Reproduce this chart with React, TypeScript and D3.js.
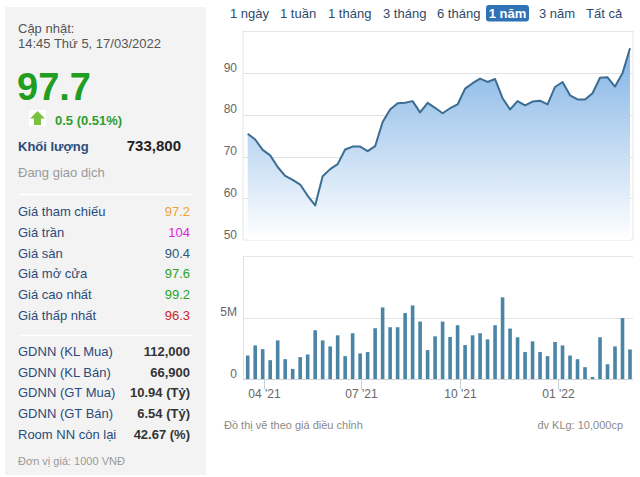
import React from "react";
import * as d3 from "d3";

const weekDates = [
  "2021-03-17","2021-03-24","2021-03-31","2021-04-07","2021-04-14","2021-04-21","2021-04-28",
  "2021-05-05","2021-05-12","2021-05-19","2021-05-26","2021-06-02","2021-06-09","2021-06-16",
  "2021-06-23","2021-06-30","2021-07-07","2021-07-14","2021-07-21","2021-07-28","2021-08-04",
  "2021-08-11","2021-08-18","2021-08-25","2021-09-01","2021-09-08","2021-09-15","2021-09-22",
  "2021-09-29","2021-10-06","2021-10-13","2021-10-20","2021-10-27","2021-11-03","2021-11-10",
  "2021-11-17","2021-11-24","2021-12-01","2021-12-08","2021-12-15","2021-12-22","2021-12-29",
  "2022-01-05","2022-01-12","2022-01-19","2022-01-26","2022-02-02","2022-02-09","2022-02-16",
  "2022-02-23","2022-03-02","2022-03-09"
];

const prices = [
  75.5, 74.1, 71.6, 70.3, 67.5, 65.4, 64.4, 63.3, 60.6, 58.3,
  65.3, 67.0, 68.2, 71.7, 72.4, 72.4, 71.3, 72.5, 78.3, 81.3,
  82.8, 82.9, 83.3, 80.6, 82.9, 81.7, 80.4, 81.6, 82.5, 86.3,
  87.6, 88.7, 87.9, 88.6, 84.0, 81.3, 83.3, 82.3, 83.2, 83.4,
  82.5, 86.7, 87.9, 84.7, 83.7, 83.7, 85.2, 88.9, 89.0, 86.8,
  90.0, 96.0
];

// volume in millions
const volumes = [
  1.91, 2.73, 2.43, 1.53, 3.14, 1.61, 0.82, 1.78, 1.99, 3.96,
  3.14, 2.65, 3.55, 1.86, 3.72, 2.08, 2.19, 4.13, 5.82, 4.21,
  4.21, 5.36, 5.98, 4.67, 2.35, 3.47, 4.67, 3.42, 4.37, 2.76,
  3.55, 3.72, 3.22, 4.37, 6.64, 4.10, 3.39, 2.19, 3.06, 2.19,
  1.86, 3.01, 2.73, 1.91, 1.61, 0.96, 0.16, 3.39, 1.20, 2.65,
  4.95, 2.40
];

const priceTicks = [50, 60, 70, 80, 90];
const volumeTicks = [0, 5];
const monthTicks = ["2021-04-01", "2021-07-01", "2021-10-01", "2022-01-01"];

const tabs = ["1 ngày", "1 tuần", "1 tháng", "3 tháng", "6 tháng", "1 năm", "3 năm", "Tất cả"];
const activeTab = "1 năm";

const priceRows = [
  { label: "Giá tham chiếu", value: "97.2", color: "#f0a033" },
  { label: "Giá trần", value: "104", color: "#e01fe0" },
  { label: "Giá sàn", value: "90.4", color: "#2c5a80" },
  { label: "Giá mở cửa", value: "97.6", color: "#29a329" },
  { label: "Giá cao nhất", value: "99.2", color: "#29a329" },
  { label: "Giá thấp nhất", value: "96.3", color: "#c8282d" },
];

const foreignRows = [
  { label: "GDNN (KL Mua)", value: "112,000" },
  { label: "GDNN (KL Bán)", value: "66,900" },
  { label: "GDNN (GT Mua)", value: "10.94 (Tỷ)" },
  { label: "GDNN (GT Bán)", value: "6.54 (Tỷ)" },
  { label: "Room NN còn lại", value: "42.67 (%)" },
];

const FONT = "Arial, 'Liberation Sans', sans-serif";
const tabX = [230, 280, 328, 383, 437, 492, 539, 586];

export default function App() {
  const parse = d3.timeParse("%Y-%m-%d");
  const dates = weekDates.map((d) => parse(d) as Date);
  const data = dates.map((d, i) => ({ d, p: prices[i], v: volumes[i] }));

  const plotLeft = 243;
  const plotRight = 633;

  const x = d3.scaleTime().domain([dates[0], dates[dates.length - 1]]).range([247.7, 630]);
  const yP = d3.scaleLinear().domain([50, 100]).range([240, 31.5]);
  const yV = d3.scaleLinear().domain([0, 10]).range([379, 256]);

  const line = d3.line<any>().x((d) => x(d.d)).y((d) => yP(d.p));
  const area = d3.area<any>().x((d) => x(d.d)).y0(yP(50)).y1((d) => yP(d.p));
  const fmt = d3.timeFormat("%m '%y");
  const barW = 3.6;

  return (
    <svg width={640} height={477} style={{ position: "absolute", left: 0, top: 0, fontFamily: FONT }}>
      <defs>
        <linearGradient id="areaGrad" gradientUnits="userSpaceOnUse" x1="0" y1={yP(100)} x2="0" y2={yP(50)}>
          <stop offset="0" stopColor="#78ade3" />
          <stop offset="1" stopColor="#ffffff" />
        </linearGradient>
      </defs>
      <rect x={0} y={0} width={640} height={477} fill="#ffffff" />

      {/* left panel */}
      <rect x={5} y={7} width={201} height={468} fill="#f3f3f3" />
      <text x={18} y={33} fontSize={13} fill="#555">Cập nhật:</text>
      <text x={18} y={48} fontSize={13} fill="#555">14:45 Thứ 5, 17/03/2022</text>
      <text x={17} y={100} fontSize={38} fontWeight="bold" fill="#1f9e1f">97.7</text>
      <rect x={29} y={110} width={17} height={16} fill="#ffffff" />
      <path d="M37.5,111 L45,118.5 L41,118.5 L41,125 L34,125 L34,118.5 L30,118.5 Z" fill="#7cc242" />
      <text x={55} y={125} fontSize={13} fontWeight="bold" fill="#2e9e2e">0.5 (0.51%)</text>
      <text x={18} y={151} fontSize={13} fontWeight="bold" fill="#2b4b7b">Khối lượng</text>
      <text x={181} y={151} fontSize={15} fontWeight="bold" fill="#222" textAnchor="end">733,800</text>
      <text x={18} y={177} fontSize={13} fill="#9a9a9a">Đang giao dịch</text>
      <line x1={19} x2={192} y1={194.5} y2={194.5} stroke="#ffffff" strokeWidth={1.5} />

      {priceRows.map((r, i) => (
        <g key={r.label}>
          <text x={18} y={216 + i * 20.8} fontSize={13} fill="#2b4b7b">{r.label}</text>
          <text x={190} y={216 + i * 20.8} fontSize={13} fill={r.color} textAnchor="end">{r.value}</text>
        </g>
      ))}
      <line x1={19} x2={192} y1={335.5} y2={335.5} stroke="#ffffff" strokeWidth={1.5} />
      {foreignRows.map((r, i) => (
        <g key={r.label}>
          <text x={18} y={356 + i * 20.7} fontSize={13} fill="#2b4b7b">{r.label}</text>
          <text x={190} y={356 + i * 20.7} fontSize={13} fontWeight="bold" fill="#333" textAnchor="end">{r.value}</text>
        </g>
      ))}
      <text x={18} y={465} fontSize={11} fill="#999">Đơn vị giá: 1000 VNĐ</text>

      {/* tabs */}
      {tabs.map((t, i) =>
        t === activeTab ? (
          <g key={t}>
            <rect x={486} y={5} width={43} height={16.5} rx={3} fill="#2f72b5" />
            <text x={507.5} y={18} fontSize={13} fontWeight="bold" fill="#fff" textAnchor="middle">{t}</text>
          </g>
        ) : (
          <text key={t} x={tabX[i]} y={18} fontSize={13} fill="#2f4a6a">{t}</text>
        )
      )}

      {/* price chart */}
      <rect x={plotLeft} y={31.5} width={plotRight - plotLeft} height={240 - 31.5} fill="#fff" stroke="#e6e6e6" />
      {priceTicks.slice(1).map((t) => (
        <line key={t} x1={plotLeft} x2={plotRight} y1={Math.round(yP(t)) + 0.5} y2={Math.round(yP(t)) + 0.5} stroke="#e3e3e3" />
      ))}
      <path d={area(data) || ""} fill="url(#areaGrad)" />
      <path d={line(data) || ""} fill="none" stroke="#3b6d93" strokeWidth={2} strokeLinejoin="round" />
      {priceTicks.map((t) => (
        <text key={t} x={237} y={yP(t) - 1.5} fontSize={12} fill="#666" textAnchor="end">{t}</text>
      ))}

      {/* volume chart */}
      <line x1={plotLeft} x2={plotRight} y1={256.5} y2={256.5} stroke="#e6e6e6" />
      <line x1={plotLeft + 0.5} x2={plotLeft + 0.5} y1={256} y2={379} stroke="#e0e0e0" />
      <line x1={plotLeft} x2={plotRight} y1={Math.round(yV(5)) + 0.5} y2={Math.round(yV(5)) + 0.5} stroke="#e6e6e6" />
      {data.map((d, i) => (
        <rect key={i} x={x(d.d) - barW / 2} y={yV(d.v)} width={barW} height={yV(0) - yV(d.v)} fill="#4a85a6" />
      ))}
      <line x1={plotLeft} x2={plotRight} y1={379.5} y2={379.5} stroke="#c8d0d8" />
      {volumeTicks.map((t) => (
        <text key={t} x={237} y={yV(t) - 1.5} fontSize={12} fill="#666" textAnchor="end">{t === 0 ? "0" : t + "M"}</text>
      ))}
      {monthTicks.map((m) => {
        const d = parse(m) as Date;
        const xx = Math.round(x(d)) + 0.5;
        return (
          <g key={m}>
            <line x1={xx} x2={xx} y1={379} y2={389} stroke="#c8d0d8" />
            <text x={xx} y={398} fontSize={12} fill="#666" textAnchor="middle">{fmt(d)}</text>
          </g>
        );
      })}

      <text x={224} y={429} fontSize={11} fill="#8a8a8a">Đồ thị vẽ theo giá điều chỉnh</text>
      <text x={623} y={429} fontSize={11} fill="#8a8a8a" textAnchor="end">đv KLg: 10,000cp</text>
    </svg>
  );
}
